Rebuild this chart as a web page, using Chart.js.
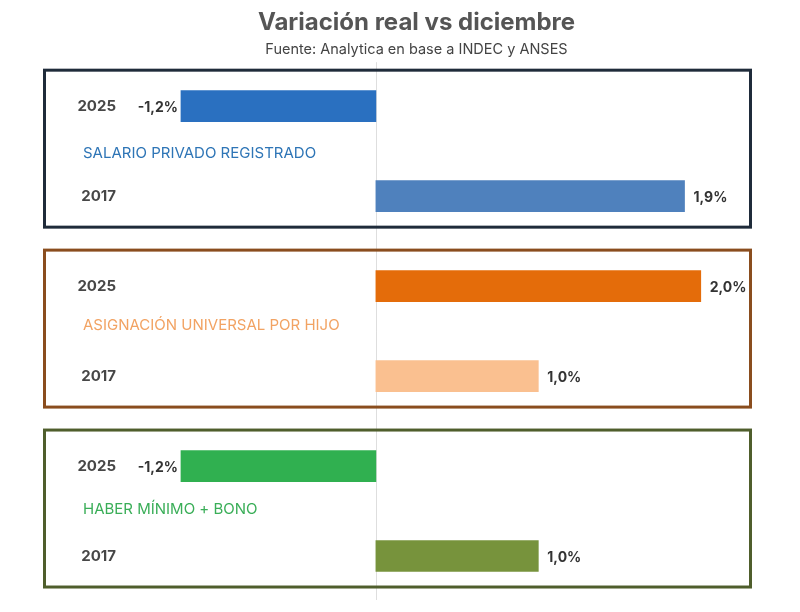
<!DOCTYPE html>
<html>
<head>
<meta charset="utf-8">
<script src="https://cdn.jsdelivr.net/npm/chart.js@4"></script>
<style>
  html, body { margin: 0; padding: 0; background: #ffffff; }
  #wrap { width: 800px; height: 612px; }
</style>
</head>
<body>
<div id="wrap"><canvas id="c" width="800" height="612"></canvas></div>
<script>
// ---- data ----
const years = ['2025', '2017', '2025', '2017', '2025', '2017'];
const values = [-1.2, 1.9, 2.0, 1.0, -1.2, 1.0];
const valueLabels = ['-1,2%', '1,9%', '2,0%', '1,0%', '-1,2%', '1,0%'];
const groupNames = ['SALARIO PRIVADO REGISTRADO', 'ASIGNACIÓN UNIVERSAL POR HIJO', 'HABER MÍNIMO + BONO'];

// ---- styles ----
const barColors = ['#2a70c0', '#4f81bd', '#e46c0a', '#fac090', '#30b050', '#77933c'];
const groupColors = ['#2e75b6', '#f2a363', '#3aae58'];
const boxColors = ['#1f2b3a', '#8a4d1e', '#4f5e2c'];
const groupLabelShift = [2, -6, -2];
const FONT = 'Inter, "Open Sans", sans-serif';

const decor = {
  id: 'decor',
  beforeDatasetsDraw(chart) {
    const { ctx, chartArea } = chart;
    const x = chart.scales.x;
    const x0 = Math.round(x.getPixelForValue(0)) + 0.5;
    ctx.save();
    ctx.strokeStyle = '#dedede';
    ctx.lineWidth = 1;
    ctx.beginPath();
    ctx.moveTo(x0, chartArea.top + 1);
    ctx.lineTo(x0, chartArea.bottom - 1);
    ctx.stroke();
    ctx.restore();
  },
  afterDatasetsDraw(chart) {
    const { ctx } = chart;
    const x = chart.scales.x;
    const y = chart.scales.y;
    ctx.save();
    for (let g = 0; g < groupNames.length; g++) {
      const yTop = y.getPixelForValue(g * 2) - 36;
      const yBot = y.getPixelForValue(g * 2 + 1) + 31;
      const xl = 44.5, xr = 750.5;
      ctx.strokeStyle = boxColors[g];
      ctx.lineWidth = 3;
      ctx.strokeRect(xl, yTop, xr - xl, yBot - yTop);
      const yMid = (y.getPixelForValue(g * 2) + y.getPixelForValue(g * 2 + 1)) / 2 + groupLabelShift[g];
      ctx.fillStyle = groupColors[g];
      ctx.font = '15px ' + FONT;
      ctx.textAlign = 'left';
      ctx.textBaseline = 'middle';
      ctx.fillText(groupNames[g], 83, yMid);
    }
    for (let i = 0; i < years.length; i++) {
      const yp = y.getPixelForValue(i);
      ctx.fillStyle = '#474747';
      ctx.font = 'bold 15px ' + FONT;
      ctx.textAlign = 'right';
      ctx.textBaseline = 'middle';
      ctx.fillText(years[i], 116, yp);
      const xp = x.getPixelForValue(values[i]);
      ctx.fillStyle = '#333333';
      ctx.font = 'bold 14px ' + FONT;
      if (values[i] < 0) {
        ctx.textAlign = 'right';
        ctx.fillText(valueLabels[i], xp - 3, yp + 2);
      } else {
        ctx.textAlign = 'left';
        ctx.fillText(valueLabels[i], xp + 9, yp + 2);
      }
    }
    ctx.restore();
  }
};

new Chart(document.getElementById('c'), {
  type: 'bar',
  data: {
    labels: years,
    datasets: [{
      data: values,
      backgroundColor: barColors,
      borderWidth: 0,
      barThickness: 31
    }]
  },
  options: {
    indexAxis: 'y',
    responsive: false,
    animation: false,
    devicePixelRatio: 1,
    layout: { padding: { left: 51, right: 18, top: 0, bottom: 11 } },
    scales: {
      x: { display: false, min: -2, max: 2.5 },
      y: { display: false, offset: true }
    },
    plugins: {
      legend: { display: false },
      tooltip: { enabled: false },
      title: {
        display: true,
        text: 'Variación real vs diciembre',
        color: '#555555',
        font: { family: FONT, size: 24, weight: 'bold' },
        padding: { top: 8, bottom: 4 }
      },
      subtitle: {
        display: true,
        text: 'Fuente: Analytica en base a INDEC y ANSES',
        color: '#444444',
        font: { family: FONT, size: 14.5 },
        padding: { top: 0, bottom: 3 }
      }
    }
  },
  plugins: [decor]
});
</script>
</body>
</html>
